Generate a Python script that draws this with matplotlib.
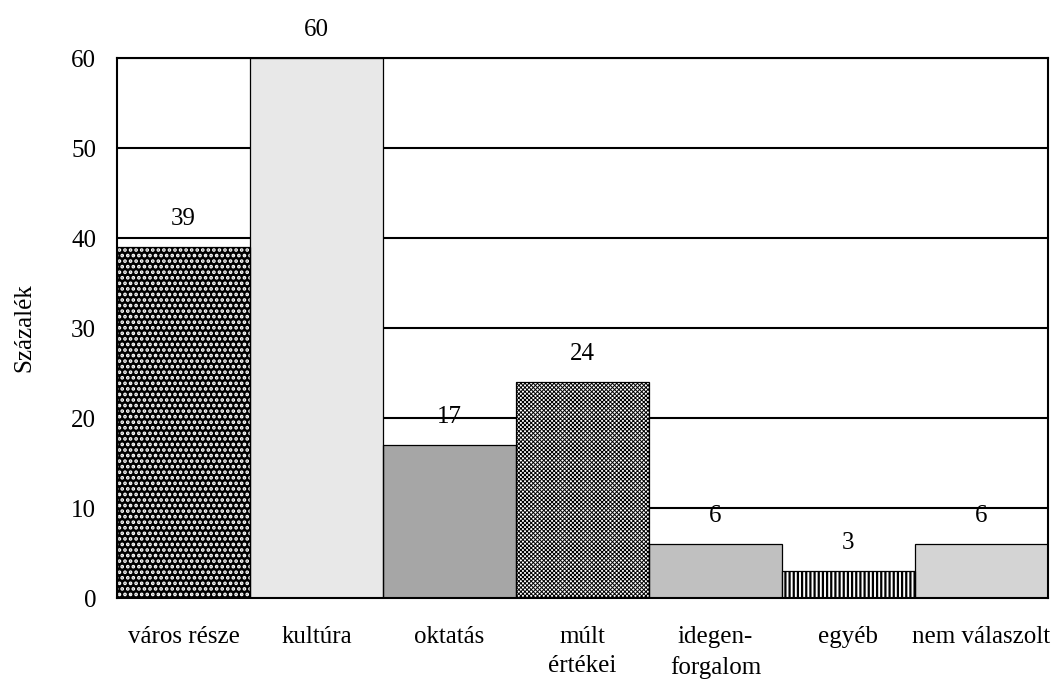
import numpy as np
import matplotlib.pyplot as plt

plt.rcParams["font.family"] = ["Liberation Serif", "DejaVu Serif"]

categories = ["város része", "kultúra", "oktatás", "múlt\nértékei",
              "idegen-\nforgalom", "egyéb", "nem válaszolt"]
values = [39, 60, 17, 24, 6, 3, 6]

# fill colour, hatch pattern, hatch colour, hatch width for each bar
fills = ["black", "#e8e8e8", "#a6a6a6", "white", "#c0c0c0", "white", "#d4d4d4"]
hatches = ["...", None, None, "xxxxxxxx", None, "||||", None]
hatch_colors = ["white", None, None, "black", None, "black", None]
hatch_widths = [1.8, 1.0, 1.0, 0.7, 1.0, 1.6, 1.0]

fig = plt.figure(figsize=(10.59, 6.84), dpi=100)
ax = fig.add_axes([0.1105, 0.1257, 0.879, 0.7895])

x = np.arange(len(categories))
for i, v in enumerate(values):
    with plt.rc_context({"hatch.linewidth": hatch_widths[i]}):
        if hatches[i] is not None:
            ax.bar(x[i], v, width=1.0, color=fills[i], hatch=hatches[i],
                   edgecolor=hatch_colors[i], linewidth=0, zorder=2)
        else:
            ax.bar(x[i], v, width=1.0, color=fills[i], linewidth=0, zorder=2)
    # outline on top of the hatch
    ax.bar(x[i], v, width=1.0, fill=False, edgecolor="black",
           linewidth=0.9, zorder=3)
    ax.annotate(str(v), (x[i], v), xytext=(0, 12), textcoords="offset points",
                ha="center", va="bottom", fontsize=18)

ax.set_xlim(-0.5, len(categories) - 0.5)
ax.set_ylim(0, 60)
ax.set_yticks(range(0, 61, 10))
ax.yaxis.grid(True, color="black", linewidth=1.5)
ax.set_axisbelow(True)

ax.set_xticks(x)
ax.set_xticklabels(categories, fontsize=18, linespacing=1.45)
ax.tick_params(axis="both", length=0, labelsize=18)
ax.tick_params(axis="y", pad=15)
ax.tick_params(axis="x", pad=20)

for side in ["left", "bottom", "right", "top"]:
    ax.spines[side].set_linewidth(1.5)
    ax.spines[side].set_zorder(4)

ax.set_ylabel("Százalék", fontsize=18, labelpad=26)

fig.savefig("out.png", dpi=100)
